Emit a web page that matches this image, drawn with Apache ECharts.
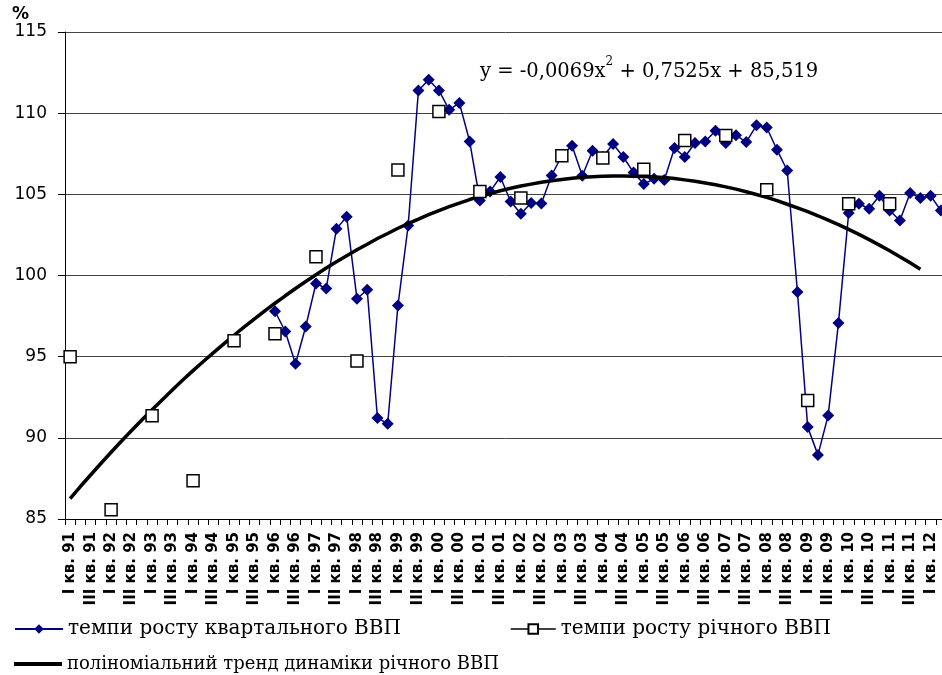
<!DOCTYPE html>
<html>
<head>
<meta charset="utf-8">
<title>Темпи росту ВВП</title>
<script src="https://cdn.jsdelivr.net/npm/echarts@6/dist/echarts.min.js"></script>
<style>
  html, body { margin: 0; padding: 0; background: #fff; overflow: hidden; }
  /* the plot runs a few pixels past the right edge, as in the source picture */
  #main { width: 946px; height: 675px; }
</style>
</head>
<body>
<div id="main"></div>
<script type="text/javascript">
// categories: quarters from I кв. 91 to II кв. 12
var quarterNames = ['I', 'II', 'III', 'IV'];
var yearLabels = ['91','92','93','94','95','96','97','98','99','00','01',
                  '02','03','04','05','06','07','08','09','10','11','12'];
var categories = [];
for (var y = 0; y < yearLabels.length; y++) {
  for (var q = 0; q < 4; q++) {
    categories.push(quarterNames[q] + ' кв. ' + yearLabels[y]);
  }
}
categories = categories.slice(0, 86);

// квартальний ВВП, from I кв. 96
var quarterlyStart = 'I кв. 96';
var quarterlyValues = [
  97.8, 96.55, 94.56, 96.86, 99.51, 99.2, 102.88, 103.62,
  98.57, 99.12, 91.22, 90.87, 98.15, 103.08, 111.4, 112.06,
  111.4, 110.21, 110.63, 108.26, 104.62, 105.18, 106.07, 104.56,
  103.8, 104.46, 104.44, 106.16, 107.4, 107.99, 106.15, 107.69,
  107.3, 108.1, 107.3, 106.35, 105.63, 105.96, 105.88, 107.85,
  107.3, 108.16, 108.26, 108.92, 108.16, 108.64, 108.22, 109.25,
  109.12, 107.75, 106.47, 98.98, 90.66, 88.95, 91.38, 97.07,
  103.85, 104.42, 104.11, 104.91, 104.0, 103.39, 105.08, 104.77,
  104.91, 104.0
];

// річний ВВП, plotted at I кв. of each year 91..11
var annualValues = [
  95.0, 85.57, 91.36, 87.35, 95.98, 96.41, 101.16, 94.73, 106.5, 110.11, 105.18,
  104.77, 107.38, 107.24, 106.54, 108.32, 108.63, 105.28, 92.3, 104.42, 104.42
];

// поліноміальний тренд, one value per quarter from I кв. 91
var trendValues = [
  86.26, 87.00, 87.71, 88.42, 89.11, 89.79, 90.45, 91.10, 91.73, 92.35,
  92.96, 93.56, 94.14, 94.70, 95.25, 95.79, 96.32, 96.83, 97.33, 97.82,
  98.29, 98.75, 99.20, 99.63, 100.05, 100.46, 100.85, 101.22, 101.59, 101.93,
  102.28, 102.59, 102.91, 103.20, 103.47, 103.75, 104.00, 104.24, 104.46, 104.68,
  104.87, 105.05, 105.22, 105.37, 105.51, 105.63, 105.74, 105.84, 105.92, 105.99,
  106.05, 106.09, 106.12, 106.13, 106.13, 106.12, 106.10, 106.07, 106.03, 105.97,
  105.89, 105.80, 105.70, 105.59, 105.46, 105.32, 105.16, 104.99, 104.81, 104.61,
  104.39, 104.17, 103.93, 103.68, 103.41, 103.13, 102.84, 102.53, 102.21, 101.87,
  101.52, 101.16, 100.78, 100.39
];

var yTicks = { min: 85, max: 115, step: 5 };

var nameQuarterly = 'темпи росту квартального ВВП';
var nameAnnual = 'темпи росту річного ВВП';
var nameTrend = 'поліноміальний тренд динаміки річного ВВП';

var qStart = categories.indexOf(quarterlyStart);
var quarterlyData = quarterlyValues.map(function (v, k) { return [categories[qStart + k], v]; });
var annualData = annualValues.map(function (v, k) { return ['I кв. ' + yearLabels[k], v]; });
var trendData = trendValues.map(function (v, k) { return [categories[k], v]; });

var myChart = echarts.init(document.getElementById('main'), null, { renderer: 'canvas' });

var legendText = { fontFamily: 'DejaVu Serif', fontSize: 20, color: '#000', lineHeight: 24 };

var option = {
  backgroundColor: '#fff',
  animation: false,
  grid: { left: 65, top: 32, bottom: 156, right: 0 },
  graphic: [
    {
      type: 'text', left: 12, top: 6,
      style: { text: '%', font: 'bold 17px "DejaVu Sans"', fill: '#000' }
    },
    {
      type: 'text', left: 480, top: 56,
      style: {
        text: '{b|y = -0,0069x}{s|2}{b| + 0,7525x + 85,519}',
        rich: {
          b: { fontFamily: 'DejaVu Serif', fontSize: 19.5, lineHeight: 26, verticalAlign: 'bottom', fill: '#000' },
          s: { fontFamily: 'DejaVu Serif', fontSize: 12, lineHeight: 26, verticalAlign: 'top', fill: '#000' }
        }
      }
    }
  ],
  legend: [
    {
      data: [nameQuarterly], left: 14, top: 617, padding: 0,
      itemWidth: 48, itemHeight: 12, textStyle: legendText
    },
    {
      data: [{ name: nameAnnual, lineStyle: { color: '#000', width: 1.5, opacity: 1 } }],
      left: 510, top: 617, padding: 0,
      itemWidth: 45, itemHeight: 12,
      textStyle: legendText
    },
    {
      data: [{ name: nameTrend, icon: 'rect' }], left: 14, top: 652, padding: 0,
      itemWidth: 48, itemHeight: 4, itemGap: 6,
      textStyle: { fontFamily: 'DejaVu Serif', fontSize: 18, color: '#000', lineHeight: 24 }
    }
  ],
  xAxis: {
    type: 'category',
    data: categories,
    boundaryGap: true,
    axisLine: { lineStyle: { color: '#000', width: 1 } },
    axisTick: { show: true, interval: 0, length: 6, lineStyle: { color: '#000' } },
    axisLabel: {
      interval: 1, rotate: 90, margin: 13,
      fontFamily: 'DejaVu Sans', fontWeight: 'bold', fontSize: 15, color: '#000'
    },
    splitLine: { show: false }
  },
  yAxis: {
    type: 'value',
    min: yTicks.min, max: yTicks.max, interval: yTicks.step,
    axisLine: { show: true, lineStyle: { color: '#000', width: 1 } },
    axisTick: { show: true, length: 7, lineStyle: { color: '#000' } },
    axisLabel: { margin: 18, fontFamily: 'DejaVu Sans', fontSize: 17, color: '#000' },
    splitLine: { show: true, lineStyle: { color: '#444', width: 1 } }
  },
  series: [
    {
      name: nameQuarterly,
      type: 'line',
      data: quarterlyData,
      symbol: 'diamond',
      symbolSize: [12, 12],
      showAllSymbol: true,
      lineStyle: { color: '#000080', width: 1.5 },
      itemStyle: { color: '#000080' },
      z: 2
    },
    {
      name: nameTrend,
      type: 'line',
      data: trendData,
      symbol: 'none',
      lineStyle: { color: '#000', width: 3.5 },
      itemStyle: { color: '#000' },
      z: 3
    },
    {
      name: nameAnnual,
      type: 'line',
      data: annualData,
      symbol: 'rect',
      symbolSize: 12,
      showAllSymbol: true,
      lineStyle: { opacity: 0, width: 0 },
      itemStyle: { color: '#fff', borderColor: '#000', borderWidth: 1.5 },
      z: 4
    }
  ]
};

myChart.setOption(option);
</script>
</body>
</html>
